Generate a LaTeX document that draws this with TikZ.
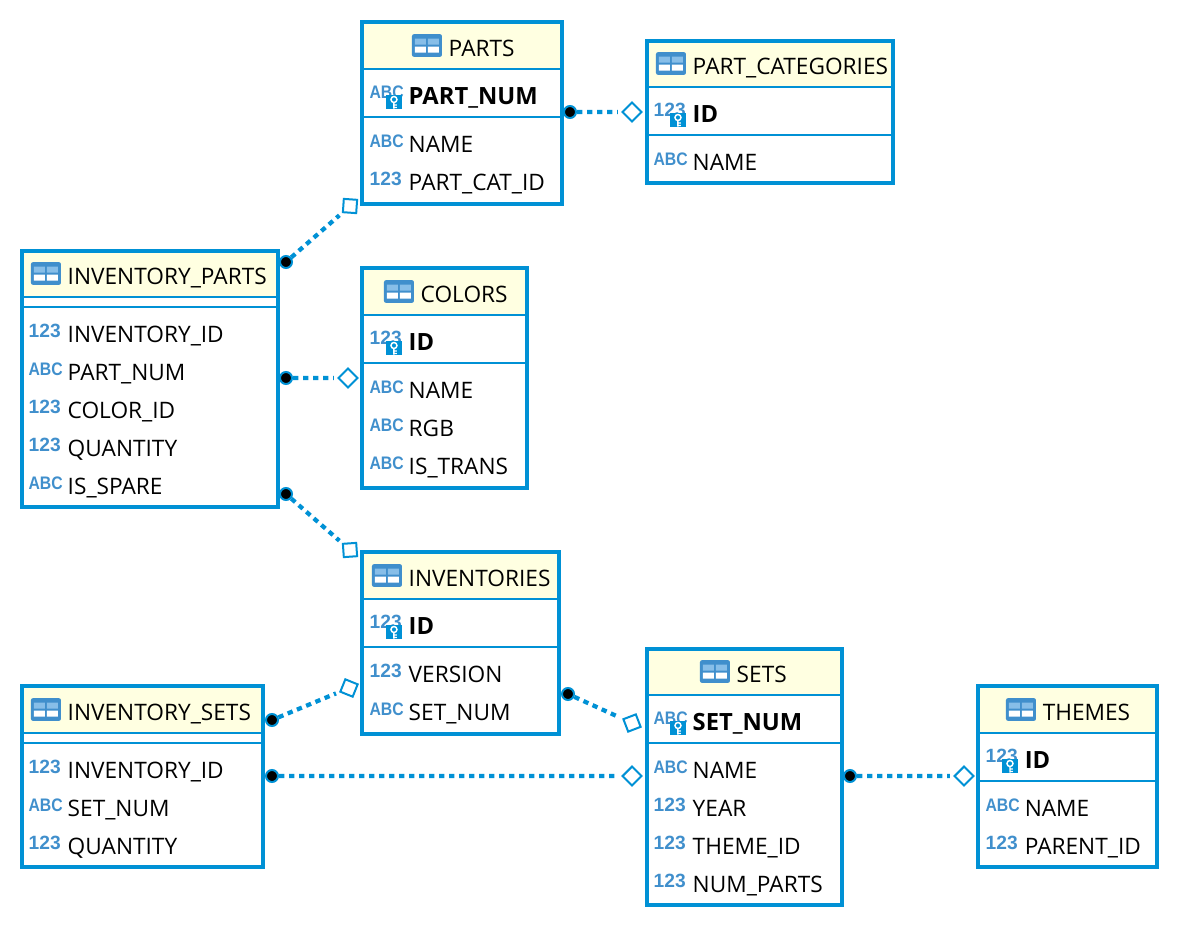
\documentclass[tikz,border=0pt]{standalone}
\usepackage{fontspec}
\setmainfont{Open Sans}
\newfontfamily\iconfont{Liberation Sans}
\usetikzlibrary{fit,calc}
\definecolor{erblue}{RGB}{0,145,213}
\definecolor{iconblue}{RGB}{64,143,204}
\definecolor{iconlight}{RGB}{135,190,232}
\definecolor{hdrfill}{RGB}{255,255,225}

\tikzset{
    tbl/.style={draw=erblue,line width=3pt,inner sep=0pt,fit={#1}},
    hdr/.style={fill=hdrfill,inner sep=0pt,fit={#1}},
    sepline/.style={draw=erblue,line width=1.5pt},
    titletext/.style={anchor=base west,inner sep=0pt,xshift=-.4pt,font=\fontsize{17}{19}\selectfont},
    coltext/.style={anchor=base west,inner sep=0pt,xshift=-.4pt,font=\fontsize{17}{19}\selectfont},
    pktext/.style={anchor=base west,inner sep=0pt,xshift=-.4pt,font=\fontsize{17.8}{19}\selectfont\bfseries},
    typeicon/.style={anchor=base east,inner sep=0pt,text=iconblue},
    fkdot/.style={circle,draw=erblue,fill=black,line width=1.5pt,inner sep=0pt,minimum size=9pt},
    fkdiamond/.style={rectangle,draw=erblue,fill=white,line width=1.5pt,inner sep=0pt,minimum size=10pt},
    fkline/.style={draw=erblue,line width=3.2pt,dash pattern=on 4pt off 3.5pt,shorten >=2.5pt},
}

\newcommand{\tyabc}{\scalebox{.87}[1]{\fontsize{13.6}{14}\iconfont\bfseries ABC}\kern-1.5pt}
\newcommand{\tynum}{\fontsize{14.4}{15}\iconfont\bfseries 123}

% table header: name, x, baseline y, text
\newcommand{\tblhead}[4]{
    \node[titletext] at (#2,#3) (#1) {#4};
    \node[fill=iconblue,rounded corners=1.5pt,minimum width=22.5pt,minimum height=17pt,inner sep=0pt] at ($(#1.base west)+(-21.5,-10.5)$) (#1ico) {};
    \fill[iconlight] ($(#1ico.center)+(-12,-7)$) rectangle ($(#1ico.center)+(-1,-1)$) ($(#1ico.center)+(1,-7)$) rectangle ($(#1ico.center)+(12,-1)$);
    \fill[white] ($(#1ico.center)+(-12,1)$) rectangle ($(#1ico.center)+(-1,7)$) ($(#1ico.center)+(1,1)$) rectangle ($(#1ico.center)+(12,7)$);
}
% plain column: name, x, baseline y, type, text
\newcommand{\colrow}[5]{
    \node[coltext] at (#2,#3) (#1) {#5};
    \node[typeicon] at ($(#1.base west)+(-6.5,-5)$) (#1t) {#4};
}
% key column: name, x, baseline y, type, text
\newcommand{\pkrow}[5]{
    \node[pktext] at (#2,#3) (#1) {#5};
    \node[typeicon] at ($(#1.base west)+(-6.5,-6)$) (#1t) {#4};
    \node[fill=erblue,minimum width=12pt,minimum height=10.5pt,inner sep=0pt] at ($(#1.base west)+(-14.5,-2)$) (#1k) {};
    \draw[white,line width=1.1pt] ($(#1k.center)+(0,-2.5)$) circle (3) ($(#1k.center)+(0,.5)$) -- ($(#1k.center)+(0,6.5)$) ($(#1k.center)+(0,3)$) -- ($(#1k.center)+(3,3)$) ($(#1k.center)+(0,5.5)$) -- ($(#1k.center)+(3,5.5)$);
}

\begin{document}
\begin{tikzpicture}[x=.75pt,y=-.75pt]
    \useasboundingbox (0,0) rectangle (1180,928);

    % PARTS
    \node[hdr={(362,22)(562,69)}] (partsh) {};
    \node[tbl={(362,22)(562,204)}] (parts) {};
    \draw[sepline] (362,69) -- (562,69);
    \draw[sepline] (362,117) -- (562,117);
    \tblhead{partst}{449}{56}{PARTS}
    \pkrow{partsa}{409}{104}{\tyabc}{PART\_NUM}
    \colrow{partsb}{409}{152}{\tyabc}{NAME}
    \colrow{partsc}{409}{190}{\tynum}{PART\_CAT\_ID}

    % PART_CATEGORIES
    \node[hdr={(647,41)(893,87)}] (cath) {};
    \node[tbl={(647,41)(893,183)}] (cat) {};
    \draw[sepline] (647,87) -- (893,87);
    \draw[sepline] (647,135) -- (893,135);
    \tblhead{catt}{693}{74}{PART\_CATEGORIES}
    \pkrow{cata}{693}{122}{\tynum}{ID}
    \colrow{catb}{693}{170}{\tyabc}{NAME}

    % INVENTORY_PARTS
    \node[hdr={(22,251)(278,297)}] (invph) {};
    \node[tbl={(22,251)(278,507)}] (invp) {};
    \draw[sepline] (22,297) -- (278,297);
    \draw[sepline] (22,307) -- (278,307);
    \tblhead{invpt}{68}{284}{INVENTORY\_PARTS}
    \colrow{invpa}{68}{342}{\tynum}{INVENTORY\_ID}
    \colrow{invpb}{68}{380}{\tyabc}{PART\_NUM}
    \colrow{invpc}{68}{418}{\tynum}{COLOR\_ID}
    \colrow{invpd}{68}{456}{\tynum}{QUANTITY}
    \colrow{invpe}{68}{494}{\tyabc}{IS\_SPARE}

    % COLORS
    \node[hdr={(362,268)(527,315)}] (colh) {};
    \node[tbl={(362,268)(527,488)}] (col) {};
    \draw[sepline] (362,315) -- (527,315);
    \draw[sepline] (362,363) -- (527,363);
    \tblhead{colt}{421}{302}{COLORS}
    \pkrow{cola}{409}{350}{\tynum}{ID}
    \colrow{colb}{409}{398}{\tyabc}{NAME}
    \colrow{colc}{409}{436}{\tyabc}{RGB}
    \colrow{cold}{409}{474}{\tyabc}{IS\_TRANS}

    % INVENTORIES
    \node[hdr={(362,552)(559,599)}] (invh) {};
    \node[tbl={(362,552)(559,734)}] (inv) {};
    \draw[sepline] (362,599) -- (559,599);
    \draw[sepline] (362,647) -- (559,647);
    \tblhead{invt}{409}{586}{INVENTORIES}
    \pkrow{inva}{409}{634}{\tynum}{ID}
    \colrow{invb}{409}{682}{\tynum}{VERSION}
    \colrow{invc}{409}{720}{\tyabc}{SET\_NUM}

    % INVENTORY_SETS
    \node[hdr={(22,686)(263,733)}] (invsh) {};
    \node[tbl={(22,686)(263,867)}] (invs) {};
    \draw[sepline] (22,733) -- (263,733);
    \draw[sepline] (22,743) -- (263,743);
    \tblhead{invst}{68}{720}{INVENTORY\_SETS}
    \colrow{invsa}{68}{778}{\tynum}{INVENTORY\_ID}
    \colrow{invsb}{68}{816}{\tyabc}{SET\_NUM}
    \colrow{invsc}{68}{854}{\tynum}{QUANTITY}

    % SETS
    \node[hdr={(647,649)(842,695)}] (setsh) {};
    \node[tbl={(647,649)(842,905)}] (sets) {};
    \draw[sepline] (647,695) -- (842,695);
    \draw[sepline] (647,743) -- (842,743);
    \tblhead{setst}{737}{682}{SETS}
    \pkrow{setsa}{693}{730}{\tyabc}{SET\_NUM}
    \colrow{setsb}{693}{778}{\tyabc}{NAME}
    \colrow{setsc}{693}{816}{\tynum}{YEAR}
    \colrow{setsd}{693}{854}{\tynum}{THEME\_ID}
    \colrow{setse}{693}{892}{\tynum}{NUM\_PARTS}

    % THEMES
    \node[hdr={(978,686)(1157,733)}] (themh) {};
    \node[tbl={(978,686)(1157,867)}] (them) {};
    \draw[sepline] (978,733) -- (1157,733);
    \draw[sepline] (978,781) -- (1157,781);
    \tblhead{themt}{1043}{720}{THEMES}
    \pkrow{thema}{1025}{768}{\tynum}{ID}
    \colrow{themb}{1025}{816}{\tyabc}{NAME}
    \colrow{themc}{1025}{854}{\tynum}{PARENT\_ID}

    % relations
    \node[fkdot] at (570,112) (d1) {};
    \node[fkdiamond,rotate=45] at (632,112) (m1) {};
    \node[fkdot] at (286,262) (d2) {};
    \node[fkdiamond,rotate=86] at (350,206) (m2) {};
    \node[fkdot] at (286,378) (d3) {};
    \node[fkdiamond,rotate=45] at (348,378) (m3) {};
    \node[fkdot] at (286,494) (d4) {};
    \node[fkdiamond,rotate=4] at (350,550) (m4) {};
    \node[fkdot] at (272,720) (d5) {};
    \node[fkdiamond,rotate=68] at (349,688) (m5) {};
    \node[fkdot] at (272,776) (d6) {};
    \node[fkdiamond,rotate=45] at (632,776) (m6) {};
    \node[fkdot] at (568,694) (d7) {};
    \node[fkdiamond,rotate=21] at (632,723) (m7) {};
    \node[fkdot] at (850,776) (d8) {};
    \node[fkdiamond,rotate=45] at (964,776) (m8) {};

    \path[fkline] (d1) edge[fkline] (m1);
    \path[fkline] (d2) edge[fkline] (m2);
    \path[fkline] (d3) edge[fkline] (m3);
    \path[fkline] (d4) edge[fkline] (m4);
    \path[fkline] (d5) edge[fkline] (m5);
    \path[fkline] (d6) edge[fkline] (m6);
    \path[fkline] (d7) edge[fkline] (m7);
    \path[fkline] (d8) edge[fkline] (m8);
\end{tikzpicture}
\end{document}
